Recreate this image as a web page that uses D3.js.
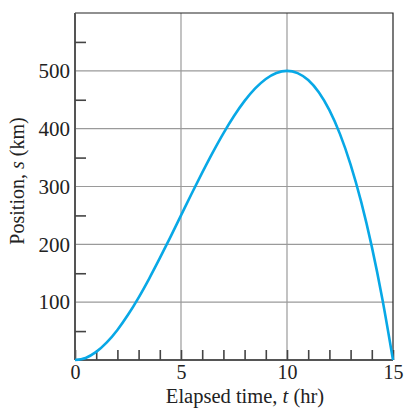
<!DOCTYPE html>
<html><head><meta charset="utf-8">
<script src="https://cdn.jsdelivr.net/npm/d3@7"></script>
<style>body{margin:0;background:#fff}svg{display:block}</style>
</head><body>
<script>
const timeHr = [0,0.5,1,1.5,2,2.5,3,3.5,4,4.5,5,5.5,6,6.5,7,7.5,8,8.5,9,9.5,10,10.5,11,11.5,12,12.5,13,13.5,14,14.5,15];
const positionKm = [0,3.6,14,30.4,52,78.1,108,140.9,176,212.6,250,287.4,324,359.1,392,421.9,448,469.6,486,496.4,500,496.1,484,462.9,432,390.6,338,273.4,196,105.1,0];
const xTickLabels = [0,5,10,15];
const yTickLabels = [100,200,300,400,500];
const xLabel = "Elapsed time, ";
const yLabel = "Position, ";

const W=406,H=409;
const m={l:75,r:13,t:13,b:49};
const svg=d3.select("body").append("svg").attr("width",W).attr("height",H);
const x=d3.scaleLinear().domain([0,15]).range([m.l,W-m.r]);
const y=d3.scaleLinear().domain([0,600]).range([H-m.b,m.t]);
const font="'Liberation Serif','Times New Roman',serif";

// grid
svg.append("g").selectAll("line").data(yTickLabels).join("line")
 .attr("x1",x(0)).attr("x2",x(15)).attr("y1",d=>y(d)).attr("y2",d=>y(d))
 .attr("stroke","#9a9a9a").attr("stroke-width",1.2);
svg.append("g").selectAll("line").data([5,10]).join("line")
 .attr("y1",y(0)).attr("y2",y(600)).attr("x1",d=>x(d)).attr("x2",d=>x(d))
 .attr("stroke","#9a9a9a").attr("stroke-width",1.2);

// frame top/right
svg.append("path").attr("d",`M${x(0)},${y(600)}H${x(15)}V${y(0)}`).attr("fill","none").attr("stroke","#222").attr("stroke-width",1.2);

// axes
const xAxis=d3.axisBottom(x).tickValues(d3.range(0,16,1)).tickSize(-10).tickFormat(d=>xTickLabels.includes(d)?d:"").tickPadding(5);
const gx=svg.append("g").attr("transform",`translate(0,${y(0)})`).call(xAxis);
const yAxis=d3.axisLeft(y).tickValues(d3.range(50,600,50)).tickSize(-11).tickFormat(d=>yTickLabels.includes(d)?d:"").tickPadding(5);
const gy=svg.append("g").attr("transform",`translate(${x(0)},0)`).call(yAxis);
[gx,gy].forEach(g=>{
 g.select(".domain").attr("stroke","#555").attr("stroke-width",2);
 g.selectAll(".tick line").attr("stroke","#444").attr("stroke-width",1.6);
 g.selectAll("text").attr("font-family",font).attr("font-size",21).attr("fill","#222");
});
gx.selectAll("text").attr("font-size",20);
gy.selectAll(".tick").filter(d=>yTickLabels.includes(d)).select("line").attr("x2",0);
gy.select(".domain").attr("d",`M0,${y(0)}V${y(600)}`);
gx.select(".domain").attr("d",`M${x(0)},0H${x(15)}`);

// curve
const line=d3.line().x((d,i)=>x(timeHr[i])).y(d=>y(d)).curve(d3.curveMonotoneX);
svg.append("path").datum(positionKm).attr("d",line).attr("fill","none").attr("stroke","#08a8e6").attr("stroke-width",2.6);

// labels
const xl=svg.append("text").attr("x",245).attr("y",403).attr("text-anchor","middle")
 .attr("font-family",font).attr("font-size",20.5).attr("fill","#222");
xl.append("tspan").text(xLabel);
xl.append("tspan").attr("font-style","italic").text("t");
xl.append("tspan").text(" (hr)");
const yl=svg.append("text").attr("transform",`translate(24,181) rotate(-90)`).attr("text-anchor","middle")
 .attr("font-family",font).attr("font-size",20).attr("fill","#222");
yl.append("tspan").text(yLabel);
yl.append("tspan").attr("font-style","italic").text("s");
yl.append("tspan").text(" (km)");
</script>
</body></html>
